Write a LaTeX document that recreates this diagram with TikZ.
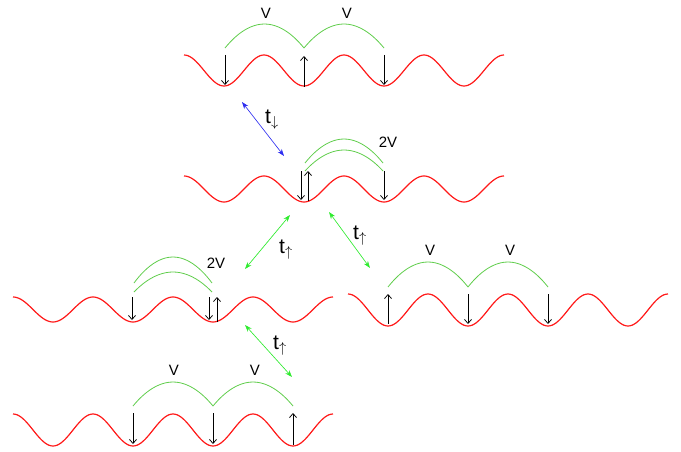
\documentclass[tikz,border=0pt]{standalone}
\usepackage{fontspec}
\setmainfont{Liberation Sans}
\usetikzlibrary{arrows.meta}
\definecolor{wavered}{RGB}{255,25,25}
\definecolor{bondgreen}{RGB}{95,205,75}
\definecolor{hopgreen}{RGB}{45,235,45}
\definecolor{hopblue}{RGB}{45,45,240}
\newcommand\wavy[3]{\draw[wave,domain=0:1440,samples=161,variable=\t] plot ({#1+\t/4.5},{#2-#3*cos(\t)});}
\begin{document}
\begin{tikzpicture}[x=1pt,y=-1pt,>=stealth,
  every node/.style={inner sep=0pt,outer sep=0pt},
  wave/.style={wavered,line width=1.2pt},
  bond/.style={bondgreen,line width=0.8pt},
  spin/.style={line width=0.75pt,-{Straight Barb[length=4pt,width=7pt]}},
  hop/.style={line width=0.65pt,{Stealth[length=7pt,width=5pt]}-{Stealth[length=7pt,width=5pt]}},
  lab/.style={font=\fontsize{15}{15}\selectfont},
  tlab/.style={font=\fontsize{21}{21}\selectfont}]
  \useasboundingbox (0,0) rectangle (681,452);
  % row 1
  \wavy{184}{70.5}{15.5}
  \draw[spin] (225,55)--(225,85); \draw[spin] (304,87)--(304,56); \draw[spin] (384,55)--(384,85);
  \coordinate (a1) at (225,48); \coordinate (a2) at (304,48); \coordinate (a3) at (384,48);
  \draw[bond] (a1) parabola[bend pos=.5] bend +(0,-24) (a2);
  \draw[bond] (a2) parabola[bend pos=.5] bend +(0,-24) (a3);
  \node[lab] (va1) at (266,13) {V};
  \node[lab] (va2) at (347,13) {V};
  % row 2
  \wavy{184}{189}{13}
  \draw[spin] (301,171)--(301,200); \draw[spin] (308,201)--(308,171); \draw[spin] (384,171)--(384,200);
  \coordinate (b1) at (305,163); \coordinate (b2) at (383,163);
  \coordinate (b3) at (305,171); \coordinate (b4) at (383,171);
  \draw[bond] (b1) parabola[bend pos=.5] bend +(0,-24) (b2);
  \draw[bond] (b3) parabola[bend pos=.5] bend +(0,-21) (b4);
  \node[lab] (vb) at (388,142) {2V};
  % row 3, left
  \wavy{13}{309.5}{12.5}
  \draw[spin] (132,297)--(132,320); \draw[spin] (209,297)--(209,320); \draw[spin] (217,322)--(217,297);
  \coordinate (c1) at (134,283); \coordinate (c2) at (212,283);
  \coordinate (c3) at (134,292); \coordinate (c4) at (212,292);
  \draw[bond] (c1) parabola[bend pos=.5] bend +(0,-26) (c2);
  \draw[bond] (c3) parabola[bend pos=.5] bend +(0,-20) (c4);
  \node[lab] (vc) at (216,263) {2V};
  % row 3, right
  \wavy{348}{310}{16}
  \draw[spin] (388,324)--(388,294); \draw[spin] (468,294)--(468,324); \draw[spin] (548,294)--(548,324);
  \coordinate (d1) at (388,287); \coordinate (d2) at (468,287); \coordinate (d3) at (548,287);
  \draw[bond] (d1) parabola[bend pos=.5] bend +(0,-25) (d2);
  \draw[bond] (d2) parabola[bend pos=.5] bend +(0,-25) (d3);
  \node[lab] (vd1) at (430,250) {V};
  \node[lab] (vd2) at (510,250) {V};
  % row 4
  \wavy{13}{430}{16}
  \draw[spin] (133,413)--(133,444); \draw[spin] (213,413)--(213,444); \draw[spin] (293,445)--(293,413);
  \coordinate (e1) at (133,406); \coordinate (e2) at (213,406); \coordinate (e3) at (293,406);
  \draw[bond] (e1) parabola[bend pos=.5] bend +(0,-24) (e2);
  \draw[bond] (e2) parabola[bend pos=.5] bend +(0,-24) (e3);
  \node[lab] (ve1) at (174,370) {V};
  \node[lab] (ve2) at (255,370) {V};
  % hoppings
  \coordinate (h1a) at (242,102); \coordinate (h1b) at (284,156);
  \coordinate (h2a) at (290,215); \coordinate (h2b) at (245,269);
  \coordinate (h3a) at (329,212); \coordinate (h3b) at (370,268);
  \coordinate (h4a) at (245,325); \coordinate (h4b) at (292,377);
  \draw[hop,hopblue] (h1a)--(h1b);
  \draw[hop,hopgreen] (h2a)--(h2b);
  \draw[hop,hopgreen] (h3a)--(h3b);
  \draw[hop,hopgreen] (h4a)--(h4b);
  \node[tlab] (t1) at (272,120) {t$_\downarrow$};
  \node[tlab] (t2) at (286,250) {t$_\uparrow$};
  \node[tlab] (t3) at (360,236) {t$_\uparrow$};
  \node[tlab] (t4) at (280,346) {t$_\uparrow$};
\end{tikzpicture}
\end{document}
